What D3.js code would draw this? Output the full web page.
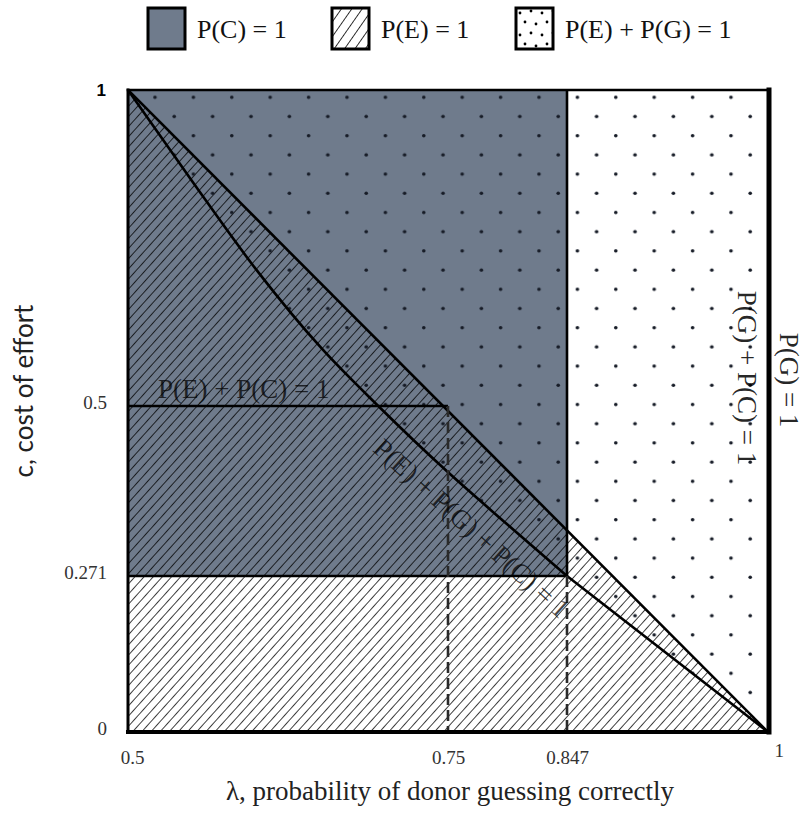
<!DOCTYPE html>
<html>
<head>
<meta charset="utf-8">
<script src="https://cdn.jsdelivr.net/npm/d3@7"></script>
<style>
  body { margin: 0; background: #fff; }
</style>
</head>
<body>
<svg id="chart" width="806" height="816"></svg>
<script>
// Axis breakpoints
const xTickValues = [0.5, 0.75, 0.847, 1];
const xTickLabels = ["0.5", "0.75", "0.847", "1"];
const yTickValues = [0, 0.271, 0.5, 1];
const yTickLabels = ["0", "0.271", "0.5", "1"];

// Boundary P(E)+P(G)+P(C)=1, upper curved part
const curveLambda = [0.5, 0.55, 0.6005, 0.6513, 0.6955, 0.7492, 0.798, 0.847];
const curveC      = [1.0, 0.856, 0.715, 0.591, 0.5, 0.412, 0.341, 0.271];
// ...and its straight continuation to λ = 1
const tailLambda = [0.847, 1];
const tailC      = [0.271, 0];
// Diagonal c = 2(1 − λ)
const diagLambda = [0.5, 1];
const diagC      = [1, 0];
// P(E)+P(C)=1 boundary
const peLambda = [0.5, 0.75];
const peC      = [0.5, 0.5];
// P(C)=1 block
const pcLambda = [0.5, 0.847];
const pcC      = [0.271, 1];
// Dashed guides
const guideLambda = [0.75, 0.847];
const guideTopC   = [0.5, 0.271];

const legendLabels = ["P(C) = 1", "P(E) = 1", "P(E) + P(G) = 1"];

const GREY = "#6f7b8c";
const INK = "#000";
const SERIF = '"Liberation Serif", "DejaVu Serif", serif';
const SANS = 'Lato, "Open Sans", sans-serif';

const svg = d3.select("#chart");
// Both axes are schematic: the marked breakpoints are spaced for readability
const x = d3.scaleLinear().domain(xTickValues).range([128, 448, 567, 768]);
const y = d3.scaleLinear().domain(yTickValues).range([732, 576, 406, 90]);

const zip = (a, b) => a.map((v, i) => [v, b[i]]);
const straight = d3.line().x(d => x(d[0])).y(d => y(d[1]));
const smooth = d3.line().x(d => x(d[0])).y(d => y(d[1])).curve(d3.curveMonotoneX);

// ---------- patterns ----------
const defs = svg.append("defs");
defs.append("clipPath").attr("id", "plot-clip").append("rect")
  .attr("x", x(0.5)).attr("y", y(1))
  .attr("width", x(1) - x(0.5)).attr("height", y(0) - y(1));

const hatch = defs.append("pattern").attr("id", "hatch")
  .attr("patternUnits", "userSpaceOnUse")
  .attr("width", 6.8).attr("height", 6.8)
  .attr("patternTransform", "rotate(42)");
hatch.append("line").attr("x1", 3.4).attr("x2", 3.4).attr("y1", -1).attr("y2", 8)
  .attr("stroke", INK).attr("stroke-width", 0.75);

const dots = defs.append("pattern").attr("id", "dots")
  .attr("patternUnits", "userSpaceOnUse")
  .attr("x", 145.4).attr("y", 87.7)
  .attr("width", 38.4).attr("height", 38.4);
[[9.6, 9.6], [28.8, 28.8]].forEach(([cx, cy]) =>
  dots.append("circle").attr("cx", cx).attr("cy", cy).attr("r", 1.8).attr("fill", "#161b26"));

const hatchKey = defs.append("pattern").attr("id", "hatch-key")
  .attr("patternUnits", "userSpaceOnUse")
  .attr("width", 8.5).attr("height", 8.5)
  .attr("patternTransform", "rotate(35)");
hatchKey.append("line").attr("x1", 4.25).attr("x2", 4.25).attr("y1", -1).attr("y2", 10)
  .attr("stroke", INK).attr("stroke-width", 0.8);

const dotsKey = defs.append("pattern").attr("id", "dots-key")
  .attr("patternUnits", "userSpaceOnUse")
  .attr("x", 516).attr("y", 8)
  .attr("width", 22).attr("height", 22);
[[4, 5], [15, 3], [9, 14], [20, 16]].forEach(([cx, cy]) =>
  dotsKey.append("circle").attr("cx", cx).attr("cy", cy).attr("r", 1.4).attr("fill", INK));

// ---------- regions ----------
const plot = svg.append("g").attr("clip-path", "url(#plot-clip)");

// P(C)=1 block
plot.append("rect")
  .attr("x", x(pcLambda[0])).attr("y", y(pcC[1]))
  .attr("width", x(pcLambda[1]) - x(pcLambda[0]))
  .attr("height", y(pcC[0]) - y(pcC[1]))
  .attr("fill", GREY);

// P(E)=1: everything below the diagonal
plot.append("path")
  .attr("d", straight([...zip(diagLambda, diagC), [0.5, 0]]) + "Z")
  .attr("fill", "url(#hatch)");

// P(E)+P(G)=1: above the three-way boundary
const curvePts = zip(curveLambda, curveC);
plot.append("path")
  .attr("d", smooth(curvePts) + "L" + x(tailLambda[1]) + "," + y(tailC[1]) +
             "L" + x(1) + "," + y(1) + "Z")
  .attr("fill", "url(#dots)");

// ---------- boundary lines ----------
const lw = 2.6;
plot.append("path").attr("d", straight(zip(diagLambda, diagC)))
  .attr("fill", "none").attr("stroke", INK).attr("stroke-width", lw);
plot.append("path").attr("d", smooth(curvePts))
  .attr("fill", "none").attr("stroke", INK).attr("stroke-width", lw);
plot.append("path").attr("d", straight(zip(tailLambda, tailC)))
  .attr("fill", "none").attr("stroke", INK).attr("stroke-width", lw);
plot.append("path").attr("d", straight(zip(peLambda, peC)))
  .attr("fill", "none").attr("stroke", INK).attr("stroke-width", lw);
// edges of the P(C)=1 block
plot.append("path").attr("d", straight([[pcLambda[0], pcC[0]], [pcLambda[1], pcC[0]], [pcLambda[1], pcC[1]]]))
  .attr("fill", "none").attr("stroke", INK).attr("stroke-width", lw);
// dashed guides down to the λ axis
guideLambda.forEach((l, i) => {
  plot.append("path").attr("d", straight([[l, guideTopC[i]], [l, 0]]))
    .attr("fill", "none").attr("stroke", "#2a2a2a").attr("stroke-width", lw)
    .attr("stroke-dasharray", "11,5");
});

// frame
const frame = svg.append("g").attr("stroke", INK).attr("stroke-linecap", "square");
frame.append("line").attr("x1", x(0.5)).attr("x2", x(0.5)).attr("y1", y(1)).attr("y2", y(0)).attr("stroke-width", 3);
frame.append("line").attr("x1", x(0.5)).attr("x2", x(1)).attr("y1", y(1)).attr("y2", y(1)).attr("stroke-width", 2.6);
frame.append("line").attr("x1", x(0.5)).attr("x2", x(1)).attr("y1", y(0)).attr("y2", y(0)).attr("stroke-width", 4);
frame.append("line").attr("x1", x(1) + 1).attr("x2", x(1) + 1).attr("y1", y(1)).attr("y2", y(0)).attr("stroke-width", 5);

// ---------- axes ----------
const xAxis = svg.append("g").attr("transform", `translate(0,${y(0)})`)
  .call(d3.axisBottom(x).tickValues(xTickValues).tickSize(0).tickPadding(19)
    .tickFormat((d, i) => xTickLabels[i]));
xAxis.select(".domain").remove();
xAxis.selectAll("text").attr("font-size", 19).attr("fill", "#333")
  .style("font-family", SERIF);
xAxis.selectAll(".tick").filter(d => d === 1).select("text")
  .attr("text-anchor", "start").attr("x", 6).attr("y", 12);
xAxis.selectAll(".tick").filter(d => d === 0.5).select("text").attr("x", 4);

const yAxis = svg.append("g").attr("transform", `translate(${x(0.5)},0)`)
  .call(d3.axisLeft(y).tickValues(yTickValues).tickSize(0).tickPadding(21)
    .tickFormat((d, i) => yTickLabels[i]));
yAxis.select(".domain").remove();
yAxis.selectAll("text").attr("font-size", 19).attr("fill", "#333").attr("dy", "0.15em")
  .style("font-family", SERIF);
yAxis.selectAll(".tick").filter(d => d === 1).select("text")
  .attr("fill", "#000").attr("font-size", 17).attr("font-weight", "bold").attr("dy", "0.35em")
  .attr("x", -22)
  .style("font-family", '"Liberation Sans", Arial, sans-serif');

// λ axis title
svg.append("text")
  .attr("x", 450).attr("y", 800).attr("text-anchor", "middle")
  .attr("font-size", 27).attr("fill", "#222")
  .style("font-family", SERIF)
  .text("λ, probability of donor guessing correctly");

// c axis title
svg.append("text")
  .attr("transform", "translate(33,391) rotate(-90)")
  .attr("text-anchor", "middle")
  .attr("font-size", 26).attr("fill", "#222")
  .style("font-family", SANS)
  .text("c, cost of effort");

// ---------- region labels ----------
const labelInk = "rgba(0,0,0,0.72)";
svg.append("text")
  .attr("x", 158).attr("y", y(0.5) - 8)
  .attr("font-size", 27).attr("fill", labelInk)
  .style("font-family", SERIF)
  .text("P(E) + P(C) = 1");

svg.append("text")
  .attr("transform", "translate(472,528) rotate(42)")
  .attr("text-anchor", "middle").attr("dy", "0.35em")
  .attr("font-size", 27).attr("fill", labelInk)
  .style("font-family", SERIF)
  .text("P(E) + P(G) + P(C) = 1");

svg.append("text")
  .attr("transform", "translate(747,378) rotate(90)")
  .attr("text-anchor", "middle").attr("dy", "0.35em")
  .attr("font-size", 27).attr("fill", "rgba(0,0,0,0.85)")
  .style("font-family", SERIF)
  .text("P(G) + P(C) = 1");

svg.append("text")
  .attr("transform", "translate(789,380) rotate(90)")
  .attr("text-anchor", "middle").attr("dy", "0.35em")
  .attr("font-size", 27).attr("fill", "rgba(0,0,0,0.85)")
  .style("font-family", SERIF)
  .text("P(G) = 1");

// ---------- legend ----------
const keyFills = [GREY, "url(#hatch-key)", "url(#dots-key)"];
const keyX = [148, 332, 516];
const legend = svg.append("g");
legendLabels.forEach((lab, i) => {
  legend.append("rect")
    .attr("x", keyX[i]).attr("y", 8).attr("width", 37).attr("height", 41)
    .attr("fill", keyFills[i]).attr("stroke", INK).attr("stroke-width", 3);
  legend.append("text")
    .attr("x", keyX[i] + 49).attr("y", 38)
    .attr("font-size", 26).attr("fill", "#111")
    .style("font-family", SERIF)
    .text(lab);
});
</script>
</body>
</html>
